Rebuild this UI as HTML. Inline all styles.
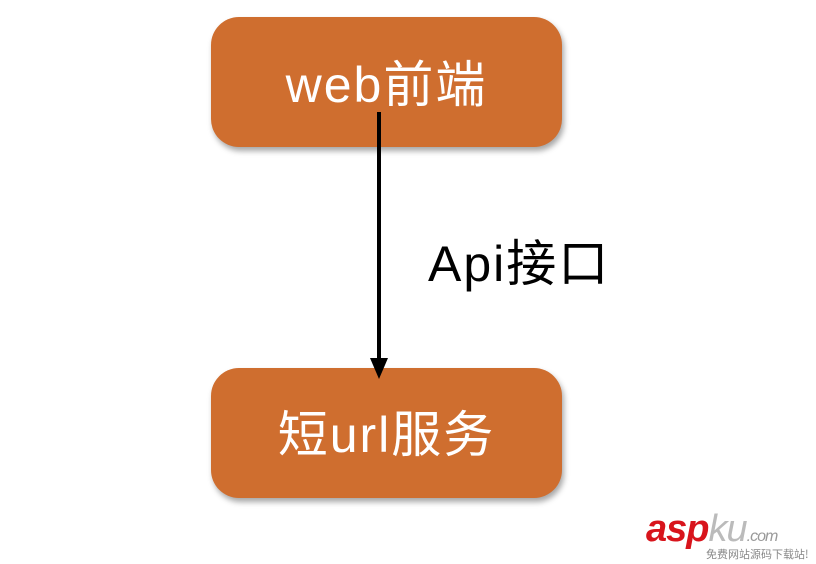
<!DOCTYPE html>
<html><head><meta charset="utf-8"><style>
body{margin:0;width:816px;height:564px;background:#fff;position:relative;overflow:hidden;font-family:"Liberation Sans","Noto Sans CJK SC",sans-serif;}
.box{position:absolute;left:211px;width:351px;height:130px;border-radius:28px;background:#CF6E2F;box-shadow:2px 4px 6px rgba(0,0,0,0.35);color:#fff;font-size:50px;text-align:center;letter-spacing:2px;}
.t{position:absolute;font-size:50px;color:#000;letter-spacing:2px;}
</style></head><body>
<div class="box" style="top:17px;line-height:136px;">web前端</div>
<div class="box" style="top:368px;line-height:134px;">短url服务</div>
<svg width="816" height="564" style="position:absolute;left:0;top:0">
<line x1="379" y1="112" x2="379" y2="362" stroke="#000" stroke-width="4"/>
<polygon points="370,358 388,358 379,379" fill="#000"/>
</svg>
<div class="t" style="left:428px;top:224px;">Api接口</div>
<div style="position:absolute;left:646px;top:508px;font:italic bold 38px 'Liberation Sans',sans-serif;color:#d8141c;letter-spacing:-1px">asp<span style="color:#bbb;font-weight:normal">ku</span><span style="color:#999;font-size:16px;font-weight:normal">.com</span></div>
<div style="position:absolute;left:706px;top:546px;font-size:11px;color:#888;font-family:'Noto Sans CJK SC',sans-serif">免费网站源码下载站!</div>
</body></html>
